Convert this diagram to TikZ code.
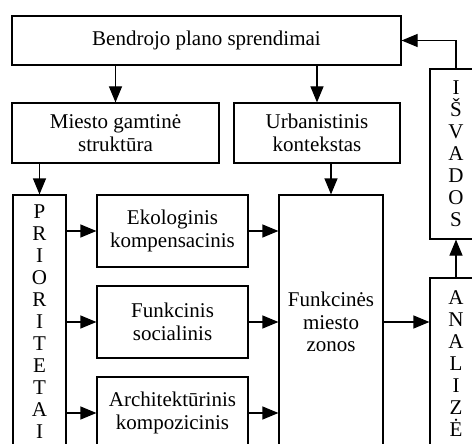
\documentclass[tikz,border=0pt]{standalone}
\usepackage{fontspec}
\setmainfont{Liberation Serif}
\usetikzlibrary{arrows.meta}

\begin{document}
\begin{tikzpicture}[x=1pt, y=-1pt,
  box/.style={draw, line width=1.2pt, inner sep=0pt, align=center,
    font=\fontsize{21}{22.5}\selectfont},
  tallbox/.style={box, font=\fontsize{21}{22}\selectfont},
  flow/.style={-{Triangle[length=16pt, width=13pt]}, line width=1.2pt}]

% Frame of the picture, the bottom and right boxes run out of it
\useasboundingbox (0,0) rectangle (472,444);
\clip (0,0) rectangle (472,444);

% Place the boxes at their centres
\node[box, minimum width=389pt, minimum height=49pt] (plan) at (206.5,40.5) {Bendrojo plano sprendimai};
\node[box, minimum width=207pt, minimum height=60pt] (gamtine) at (115.5,133) {Miesto gamtinė\\struktūra};
\node[box, minimum width=166pt, minimum height=60pt] (urban) at (317,133) {Urbanistinis\\kontekstas};
\node[tallbox, minimum width=53pt, minimum height=254pt] (prioritetai) at (39.5,322) {P\\R\\I\\O\\R\\I\\T\\E\\T\\A\\I};
\node[box, minimum width=151pt, minimum height=72pt] (ekolog) at (172.5,231) {Ekologinis\\kompensacinis};
\node[box, minimum width=151pt, minimum height=72pt] (social) at (172.5,322) {Funkcinis\\socialinis};
\node[box, minimum width=151pt, minimum height=72pt] (kompoz) at (172.5,413) {Architektūrinis\\kompozicinis};
\node[box, minimum width=104pt, minimum height=254pt] (zonos) at (331,322) {Funkcinės\\miesto\\zonos};
\node[tallbox, minimum width=52pt, minimum height=170pt] (isvados) at (456,154) {I\\Š\\V\\A\\D\\O\\S};
\node[tallbox, minimum width=52pt, minimum height=171pt] (analize) at (456,363.5) {A\\N\\A\\L\\I\\Z\\Ė};

% Draw the arrows between the boxes
\draw[flow] (gamtine.north |- plan.south) -- (gamtine.north);
\draw[flow] (urban.north |- plan.south) -- (urban.north);
\draw[flow] (prioritetai.north |- gamtine.south) -- (prioritetai.north);
\draw[flow] (zonos.north |- urban.south) -- (zonos.north);
\foreach \n in {ekolog, social, kompoz} {
  \draw[flow] (prioritetai.east |- \n) -- (\n.west);
  \draw[flow] (\n.east) -- (zonos.west |- \n);
}
\draw[flow] (zonos.east) -- (analize.west |- zonos);
\draw[flow] (analize.north) -- (isvados.south);
\draw[flow] (isvados.north) |- (plan.east);

\end{tikzpicture}
\end{document}
